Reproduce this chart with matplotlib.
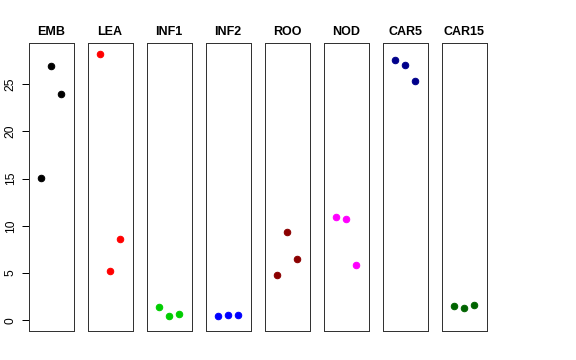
#!/usr/bin/env python3
import matplotlib
matplotlib.use('Agg')
import matplotlib.pyplot as plt

plt.rcParams['font.family'] = ['Liberation Sans', 'DejaVu Sans']

# tissue groups, values (3 replicates each)
groups = ['EMB', 'LEA', 'INF1', 'INF2', 'ROO', 'NOD', 'CAR5', 'CAR15']
values = [
    [15.1, 26.9, 24.0],
    [28.24, 5.2, 8.65],
    [1.41, 0.42, 0.64],
    [0.46, 0.6, 0.6],
    [4.77, 9.35, 6.46],
    [10.94, 10.7, 5.83],
    [27.57, 27.04, 25.38],
    [1.48, 1.30, 1.62],
]
colors = ['black', 'red', '#00CD00', 'blue', '#8B0000', 'magenta', '#00008B', '#006400']
yticks = [0, 5, 10, 15, 20, 25]

ymin, ymax = 0.0, 28.24
pad = 0.04 * (ymax - ymin)

fig = plt.figure(figsize=(8, 5), dpi=72)

left = 28.7 / 576
width = 44.8 / 576
step = 59.0 / 576
bottom = 1 - 331 / 360
height = (331 - 43) / 360

for i, (name, vals, col) in enumerate(zip(groups, values, colors)):
    ax = fig.add_axes([left + i * step, bottom, width, height])
    ax.plot([1, 2, 3], vals, 'o', color=col, ms=6.5, mec=col)
    ax.set_xlim(0 - 0.16, 4 + 0.16)
    ax.set_ylim(ymin - pad, ymax + pad)
    ax.set_xticks([])
    for s in ax.spines.values():
        s.set_linewidth(1.0)
        s.set_color('#333333')
    ax.set_title(name, fontsize=12.5, fontweight='bold', pad=8)
    if i == 0:
        ax.set_yticks(yticks)
        ax.set_yticklabels([str(t) for t in yticks], rotation=90, va='center', fontsize=12)
        ax.tick_params(axis='y', length=7, width=1, pad=5)
    else:
        ax.set_yticks([])

fig.savefig('out.png', dpi=72)
